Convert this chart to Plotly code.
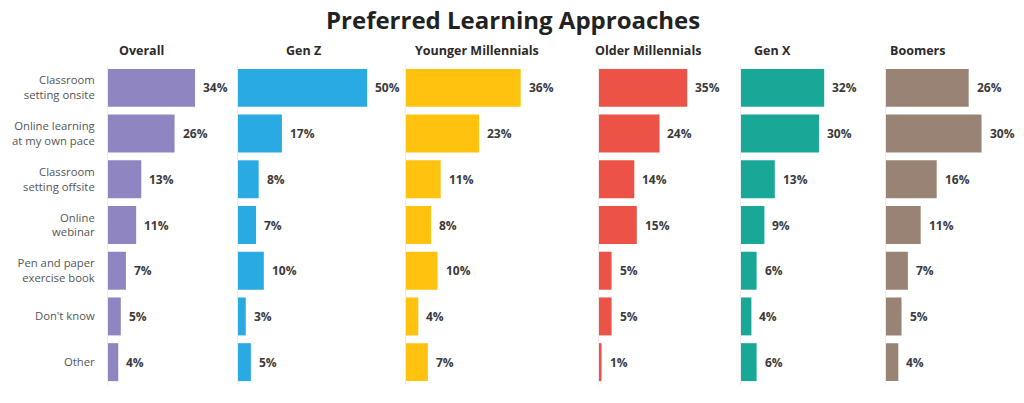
import plotly.graph_objects as go

categories = [
    "Classroom<br>setting onsite",
    "Online learning<br>at my own pace",
    "Classroom<br>setting offsite",
    "Online<br>webinar",
    "Pen and paper<br>exercise book",
    "Don't know",
    "Other",
]
groups = ["Overall", "Gen Z", "Younger Millennials", "Older Millennials", "Gen X", "Boomers"]
overall = [34, 26, 13, 11, 7, 5, 4]
gen_z = [50, 17, 8, 7, 10, 3, 5]
younger_millennials = [36, 23, 11, 8, 10, 4, 7]
older_millennials = [35, 24, 14, 15, 5, 5, 1]
gen_x = [32, 30, 13, 9, 6, 4, 6]
boomers = [26, 30, 16, 11, 7, 5, 4]
series = [overall, gen_z, younger_millennials, older_millennials, gen_x, boomers]

colors = ["#8f85c0", "#2aaae2", "#fec20f", "#ec5245", "#19a898", "#988375"]

# figure fills the whole page (body margin removed via post_script)
W, H = 1024, 403


def px_x(p):
    return p / W


def px_y(p):
    return (H - p) / H


# panel layout in page pixels: (left, right) and x range max
panels = [(108, 236, 50), (238, 393, 60), (405.5, 565.5, 50), (599, 725, 50), (741, 871, 50), (885.5, 1013.5, 40)]
title_x = [141, 303, 477, 648, 772, 917]
y_dom = [px_y(385), px_y(65)]

font_family = "Open Sans, Lato, sans-serif"
fig = go.Figure()
annotations = []
for i, (g, vals, col, (l, r, rmax)) in enumerate(zip(groups, series, colors, panels)):
    idx = "" if i == 0 else str(i + 1)
    fig.add_trace(go.Bar(
        x=vals, y=categories, orientation="h",
        marker=dict(color=col, line=dict(width=0)),
        xaxis="x" + idx, yaxis="y" + idx, showlegend=False,
        hoverinfo="x+y",
    ))
    fig.layout["xaxis" + idx] = dict(
        domain=[px_x(l), px_x(r)], range=[0, rmax], anchor="y" + idx,
        showgrid=False, zeroline=False, showticklabels=False, showline=False, fixedrange=True,
    )
    fig.layout["yaxis" + idx] = dict(
        domain=y_dom, anchor="x" + idx, categoryorder="array", categoryarray=categories,
        autorange="reversed", showgrid=False, zeroline=False,
        showline=True, linecolor="#ececec", linewidth=1,
        showticklabels=(i == 0), ticks="", ticklabelstandoff=10, automargin=False,
        tickfont=dict(family=font_family, size=11.3, color="#555555"),
    )
    for c, v in zip(categories, vals):
        annotations.append(dict(
            x=v, y=c, xref="x" + idx, yref="y" + idx, text="<b>%d%%</b>" % v,
            showarrow=False, xanchor="left", xshift=6,
            font=dict(family=font_family, size=12, color="#3a3a3a"),
        ))
    annotations.append(dict(
        x=px_x(title_x[i]), y=px_y(51), xref="paper", yref="paper", text="<b>%s</b>" % g,
        showarrow=False, xanchor="center", yanchor="middle",
        font=dict(family=font_family, size=12.5, color="#2a2a2a"),
    ))

annotations.append(dict(
    x=px_x(513), y=px_y(19.5), xref="paper", yref="paper", text="<b>Preferred Learning Approaches</b>",
    showarrow=False, xanchor="center", yanchor="middle", borderpad=0,
    font=dict(family=font_family, size=24, color="#222222"),
))

fig.update_layout(
    width=W, height=H, margin=dict(l=0, r=0, t=0, b=0, autoexpand=False),
    paper_bgcolor="white", plot_bgcolor="white",
    bargap=0.17, annotations=annotations,
)
fig.write_html(
    "out.html",
    config={"displayModeBar": False},
    post_script="document.body.style.margin='0';document.body.style.overflow='hidden';",
)
